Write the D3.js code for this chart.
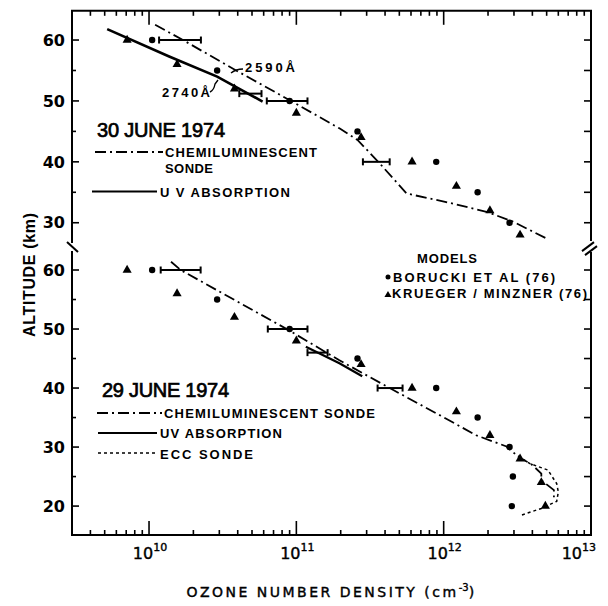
<!DOCTYPE html>
<html>
<head>
<meta charset="utf-8">
<script src="https://cdn.jsdelivr.net/npm/d3@7"></script>
<style>
  body { margin: 0; background: #fff; }
  svg text { fill: #000; }
</style>
</head>
<body>
<svg id="chart" width="608" height="606"></svg>
<script>
// ---- Model profiles (same in both panels) ----
const boruckiAlt  = [60, 55, 50, 45, 40, 35, 30, 25, 20];
const boruckiDens = [1.05e10, 2.9e10, 9.0e10, 2.6e11, 8.9e11, 1.7e12, 2.8e12, 2.95e12, 2.9e12];
const kruegerAlt  = [60, 56, 52, 48, 44, 40, 36, 32, 28, 24, 20];
const kruegerDens = [7.1e9, 1.55e10, 3.8e10, 1.0e11, 2.75e11, 6.1e11, 1.22e12, 2.06e12, 3.3e12, 4.6e12, 4.9e12];

// ---- 30 June 1974 ----
const jun30ChemiAlt  = [62.5, 60, 55, 50, 45.5, 43.6, 40, 34.8, 33.4, 31.8, 30.2, 27.4];
const jun30ChemiDens = [1.1e10, 1.7e10, 3.9e10, 9.2e10, 1.96e11, 2.6e11, 3.6e11, 5.6e11, 1.04e12, 1.95e12, 2.95e12, 5.0e12];
const jun30UvAlt  = [61.8, 57.3, 54.0, 49.9];
const jun30UvDens = [5.2e9, 1.37e10, 2.9e10, 5.9e10];
const jun30ErrAlt = [60, 50, 40, 51.2];
const jun30ErrLo  = [1.17e10, 6.3e10, 2.83e11, 4.1e10];
const jun30ErrHi  = [2.25e10, 1.19e11, 4.3e11, 5.8e10];

// ---- 29 June 1974 ----
const jun29ChemiAlt  = [61.4, 60, 50, 44.7, 40, 35.1, 32.0, 30.1, 28.1, 27.2, 25.5, 24.4, 22.7, 21.5];
const jun29ChemiDens = [1.41e10, 1.64e10, 8.6e10, 1.96e11, 4.3e11, 9.9e11, 1.66e12, 2.67e12, 3.3e12, 3.9e12, 4.6e12, 4.6e12, 5.6e12, 5.6e12];
const jun29UvAlt  = [47.0, 44.2, 42.0];
const jun29UvDens = [1.16e11, 1.96e11, 2.8e11];
const jun29EccAlt  = [18.5, 19.6, 20.8, 22.4, 23.8, 26.1, 27.2, 28.5];
const jun29EccDens = [3.4e12, 4.6e12, 5.85e12, 6.0e12, 5.85e12, 5.1e12, 3.85e12, 3.2e12];
const jun29ErrAlt = [60, 50, 46, 40];
const jun29ErrLo  = [1.2e10, 6.4e10, 1.19e11, 3.56e11];
const jun29ErrHi  = [2.24e10, 1.19e11, 1.63e11, 5.26e11];

// ---- Axis labels ----
const decadeExps = [10, 11, 12, 13];
const altLabelsTop = [30, 40, 50, 60];
const altLabelsBot = [20, 30, 40, 50, 60];

const svg = d3.select('#chart');
const x = d3.scaleLog().domain([3e9, 1e13]).range([72, 591]);
const yTop = d3.scaleLinear().domain([26, 64.8]).range([247.1, 10.8]);
const yBot = d3.scaleLinear().domain([15.1, 64]).range([535, 246.4]);

const X0 = x.range()[0], X1 = x.range()[1];
const Ytop = yTop.range()[1], Ybot = yBot.range()[0];
const breakY = yTop.range()[0];

const pts = (alt, dens) => alt.map((a, i) => ({alt: a, dens: dens[i]}));
const inDomain = (y) => (d) => d.alt >= y.domain()[0] && d.alt <= y.domain()[1];

const frame = svg.append('g').attr('stroke', '#000').attr('stroke-width', 2).attr('fill', 'none');
// top & bottom borders
frame.append('line').attr('x1', X0 - 1).attr('x2', X1 + 1).attr('y1', Ytop).attr('y2', Ytop);
frame.append('line').attr('x1', X0 - 1).attr('x2', X1 + 1).attr('y1', Ybot).attr('y2', Ybot);
// left & right borders with a break between the panels
frame.append('line').attr('x1', X0).attr('x2', X0).attr('y1', Ytop).attr('y2', breakY - 4);
frame.append('line').attr('x1', X0).attr('x2', X0).attr('y1', breakY + 4).attr('y2', Ybot);
frame.append('line').attr('x1', X1).attr('x2', X1).attr('y1', Ytop).attr('y2', breakY - 6);
frame.append('line').attr('x1', X1).attr('x2', X1).attr('y1', breakY + 5).attr('y2', Ybot);
// break marks
frame.append('line').attr('x1', X0 - 5).attr('y1', breakY - 5).attr('x2', X0 + 6).attr('y2', breakY + 5);
frame.append('line').attr('x1', X1 - 9).attr('y1', breakY + 4).attr('x2', X1 + 3).attr('y2', breakY - 5);
frame.append('line').attr('x1', X1 - 6).attr('y1', breakY + 8).attr('x2', X1 + 6).attr('y2', breakY - 1);

// log ticks along top and bottom (inward)
const logTicks = [];
for (let e = 9; e <= 13; e++) for (let k = 1; k <= 9; k++) {
  const v = k * Math.pow(10, e);
  if (v >= x.domain()[0] * 1.0001 && v <= x.domain()[1] * 1.0001) logTicks.push(v);
}
const tickG = svg.append('g').attr('stroke', '#000').attr('stroke-width', 1.6);
logTicks.forEach(v => {
  const major = Math.abs(Math.log10(v) - Math.round(Math.log10(v))) < 1e-9;
  const len = major ? 14 : 5;
  tickG.append('line').attr('x1', x(v)).attr('x2', x(v)).attr('y1', Ybot).attr('y2', Ybot - len);
  tickG.append('line').attr('x1', x(v)).attr('x2', x(v)).attr('y1', Ytop).attr('y2', Ytop + len);
});

// altitude ticks (left with labels, right plain)
function altAxis(y, values, labels) {
  values.forEach(v => {
    const major = v % 10 === 0;
    tickG.append('line').attr('x1', X0).attr('x2', X0 + (major ? 7 : 4)).attr('y1', y(v)).attr('y2', y(v));
    tickG.append('line').attr('x1', X1).attr('x2', X1 - 7).attr('y1', y(v)).attr('y2', y(v));
  });
  svg.append('g').selectAll('text').data(labels).join('text')
    .attr('x', X0 - 7).attr('y', d => y(d)).attr('dy', '0.36em')
    .attr('text-anchor', 'end')
    .style('font', 'bold 16px "DejaVu Sans"')
    .text(d => d);
}
altAxis(yTop, [30, 35, 40, 45, 50, 55, 60], altLabelsTop);
altAxis(yBot, [20, 25, 30, 35, 40, 45, 50, 55, 60], altLabelsBot);

// decade labels
const xl = svg.append('g').selectAll('text').data(decadeExps).join('text')
  .attr('x', (d, i) => i === decadeExps.length - 1 ? x(Math.pow(10, d)) + 5 : x(Math.pow(10, d)) + 1)
  .attr('y', 559)
  .attr('text-anchor', (d, i) => i === decadeExps.length - 1 ? 'end' : 'middle')
  .style('font', '16px "DejaVu Sans"').style('stroke', '#000').style('stroke-width', 0.4);
xl.append('tspan').text('10');
xl.append('tspan').attr('dy', -8).style('font-size', '11px').text(d => d);

// axis titles
svg.append('text').attr('transform', 'translate(35,275) rotate(-90)')
  .attr('text-anchor', 'middle')
  .style('font', 'bold 16px "Liberation Sans"')
  .attr('textLength', 124).attr('lengthAdjust', 'spacing')
  .text('ALTITUDE (km)');
const xt = svg.append('text').attr('x', (X0 + X1) / 2).attr('y', 597)
  .attr('text-anchor', 'middle')
  .style('font', '14px "DejaVu Sans"').style('letter-spacing', '2.5px')
  .style('stroke', '#000').style('stroke-width', 0.4);
xt.append('tspan').text('OZONE NUMBER DENSITY (cm');
xt.append('tspan').attr('dy', -6).style('font-size', '10px').style('letter-spacing', '0px').text('-3');
xt.append('tspan').attr('dy', 6).text(')');

// ---- data drawing helpers ----
const dashDot = '11,4,2,4';
function profile(y, data, dash, width) {
  svg.append('path').datum(data)
    .attr('fill', 'none').attr('stroke', '#000')
    .attr('stroke-width', width).attr('stroke-dasharray', dash)
    .attr('d', d3.line().x(d => x(d.dens)).y(d => y(d.alt)));
}
function errorBars(y, alt, lo, hi) {
  const g = svg.append('g').attr('stroke', '#000').attr('stroke-width', 2);
  alt.forEach((a, i) => {
    g.append('line').attr('x1', x(lo[i])).attr('x2', x(hi[i])).attr('y1', y(a)).attr('y2', y(a));
    [lo[i], hi[i]].forEach(v =>
      g.append('line').attr('x1', x(v)).attr('x2', x(v)).attr('y1', y(a) - 3.5).attr('y2', y(a) + 3.5));
  });
}
const tri = d3.symbol().type(d3.symbolTriangle).size(36);
function models(y) {
  svg.append('g').selectAll('circle').data(pts(boruckiAlt, boruckiDens).filter(inDomain(y))).join('circle')
    .attr('cx', d => x(d.dens)).attr('cy', d => y(d.alt)).attr('r', 3.2).attr('fill', '#000');
  svg.append('g').selectAll('path').data(pts(kruegerAlt, kruegerDens).filter(inDomain(y))).join('path')
    .attr('transform', d => `translate(${x(d.dens)},${y(d.alt)})`).attr('d', tri).attr('fill', '#000');
}

// 30 June panel
profile(yTop, pts(jun30ChemiAlt, jun30ChemiDens), dashDot, 1.8);
profile(yTop, pts(jun30UvAlt, jun30UvDens), null, 2.6);
errorBars(yTop, jun30ErrAlt, jun30ErrLo, jun30ErrHi);
models(yTop);

// 29 June panel
profile(yBot, pts(jun29ChemiAlt, jun29ChemiDens), dashDot, 1.8);
profile(yBot, pts(jun29UvAlt, jun29UvDens), null, 2.2);
profile(yBot, pts(jun29EccAlt, jun29EccDens), '3,3', 1.5);
errorBars(yBot, jun29ErrAlt, jun29ErrLo, jun29ErrHi);
models(yBot);

// text helper
function label(txt, x0, y0, font, len) {
  const t = svg.append('text').attr('x', x0).attr('y', y0).style('font', font).text(txt);
  if (len) t.attr('textLength', len).attr('lengthAdjust', 'spacing');
  return t;
}
// wavelength annotations
label('2590Å', 245, 72, 'bold 13px "Liberation Sans"', 50);
label('2740Å', 162, 97, 'bold 13px "Liberation Sans"', 48);
const ann = svg.append('g').attr('fill', 'none').attr('stroke', '#000').attr('stroke-width', 1.4);
ann.append('path').attr('d', 'M243,69 Q236,69 231,73');
ann.append('path').attr('d', 'M210,92 Q214,90 215,84 L218,80');

// legends
function legendLine(x1, x2, y, dash, width) {
  svg.append('line').attr('x1', x1).attr('x2', x2).attr('y1', y).attr('y2', y)
    .attr('stroke', '#000').attr('stroke-width', width).attr('stroke-dasharray', dash);
}
const legFont = 'bold 13px "Liberation Sans"';
label('30 JUNE 1974', 97, 137, '20px "Liberation Sans"', 128).style('stroke', '#000').style('stroke-width', 0.7);
legendLine(95, 163, 152, dashDot, 1.8);
label('CHEMILUMINESCENT', 165, 157, legFont, 152);
label('SONDE', 165, 173, legFont, 48);
legendLine(92, 157, 191.5, null, 2);
label('U V ABSORPTION', 160, 197, legFont, 130);

label('29 JUNE 1974', 102, 397, '20px "Liberation Sans"', 127).style('stroke', '#000').style('stroke-width', 0.7);
legendLine(97, 162, 413, dashDot, 1.8);
label('CHEMILUMINESCENT SONDE', 164, 418, legFont, 211);
legendLine(98, 157, 433, null, 2);
label('UV ABSORPTION', 160, 438, legFont, 122);
legendLine(98, 157, 453, '3,3', 1.5);
label('ECC SONDE', 160, 459, legFont, 93);

label('MODELS', 417, 263, legFont, 60);
svg.append('circle').attr('cx', 388).attr('cy', 277).attr('r', 2.5).attr('fill', '#000');
label('BORUCKI ET AL (76)', 393, 282, legFont, 162);
svg.append('path').attr('transform', 'translate(388,295)').attr('d', d3.symbol().type(d3.symbolTriangle).size(22)).attr('fill', '#000');
label('KRUEGER / MINZNER (76)', 392, 298, legFont, 195);
</script>
</body>
</html>
